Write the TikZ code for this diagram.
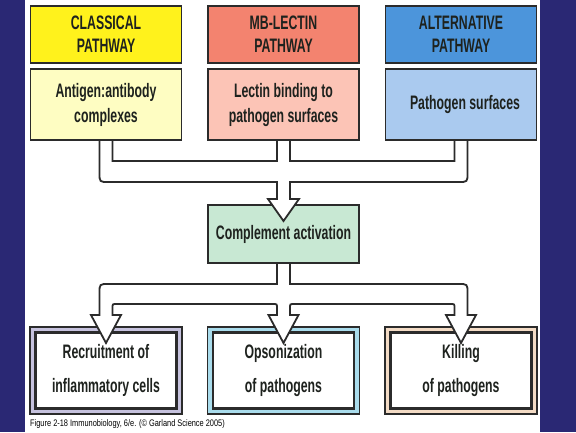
\documentclass[tikz,border=0pt]{standalone}
\usepackage{fontspec}
\setmainfont{Liberation Sans}[FakeStretch=0.63]
\newfontfamily\capfont{Liberation Sans}[FakeStretch=0.78]
\usetikzlibrary{calc}

\begin{document}
\begin{tikzpicture}[x=1pt, y=-1pt,
  box/.style={draw=boxline, line width=1.6pt, minimum width=151pt, inner sep=0pt, outer sep=0pt,
    align=center, text=txt, font=\bfseries\fontsize{19.5}{23}\selectfont},
  title/.style={box, minimum height=57pt},
  source/.style={box, minimum height=71pt, font=\bfseries\fontsize{19.5}{25}\selectfont},
  effect/.style={draw=boxline, line width=1.1pt, minimum width=152pt, minimum height=87pt, inner sep=0pt, outer sep=0pt},
  effectin/.style={box, line width=2.2pt, fill=white, minimum width=141pt, minimum height=76pt,
    font=\bfseries\fontsize{19.5}{34}\selectfont},
  conn/.style={draw=boxline, fill=white, line width=1.8pt, line join=miter}]
  \definecolor{slide}{HTML}{2A2874}
  \definecolor{boxline}{HTML}{2B2B2B}
  \definecolor{txt}{HTML}{1E221E}
  \definecolor{clsdark}{HTML}{FFF21C}
  \definecolor{clslight}{HTML}{FEFDC2}
  \definecolor{mbldark}{HTML}{F3836F}
  \definecolor{mbllight}{HTML}{FCC4B6}
  \definecolor{altdark}{HTML}{4C95DB}
  \definecolor{altlight}{HTML}{AACAEF}
  \definecolor{actfill}{HTML}{C8E8D3}
  \definecolor{recfill}{HTML}{C6C2DE}
  \definecolor{opsfill}{HTML}{A9DCEC}
  \definecolor{kilfill}{HTML}{F3DBC5}

  \useasboundingbox (0,0) rectangle (576,432);
  \fill[slide] (0,0) rectangle (576,432);
  \fill[white] (25,0) rectangle (540,432);

  % pathways
  \node[title, fill=clsdark] (cls) at (106,34.5) {CLASSICAL\\PATHWAY};
  \node[title, fill=mbldark] (mbl) at (283.5,34.5) {MB-LECTIN\\PATHWAY};
  \node[title, fill=altdark] (alt) at (461,34.5) {ALTERNATIVE\\PATHWAY};

  \node[source, fill=clslight] (clsin) at (106,104.5) {Antigen:antibody\\complexes};
  \node[source, fill=mbllight] (mblin) at (283.5,104.5) {Lectin binding to\\pathogen surfaces};
  \node[source, fill=altlight] (altin) at (461,104.5) {\hspace{8pt}Pathogen surfaces};

  \node[box, fill=actfill, minimum height=58pt] (cact) at (283.5,234) {Complement activation};

  % effects
  \node[effect, fill=recfill] (rec) at (106,370.5) {};
  \node[effect, fill=opsfill] (ops) at (283.5,370.5) {};
  \node[effect, fill=kilfill] (kil) at (461,370.5) {};
  \node[effectin] (recin) at (rec) {Recruitment of\\inflammatory cells};
  \node[effectin] (opsin) at (ops) {Opsonization\\of pathogens};
  \node[effectin] (kilin) at (kil) {Killing\\of pathogens};

  \path (cact.north) ++(0,-23) coordinate (jo)
        (cact.north) ++(0,-44) coordinate (ji)
        (cact.south) ++(0,21) coordinate (bo)
        (cact.south) ++(0,41) coordinate (bi);

  % merging arrow
  \filldraw[conn] ($(clsin.south)+(-6.5,0)$) -- ($(clsin.south |- jo)+(-6.5,-9)$)
    .. controls ($(clsin.south |- jo)+(-6.5,0)$) .. ($(clsin.south |- jo)+(2.5,0)$)
    -- ($(jo)+(-6.5,0)$) -- ($(cact.north)+(-6.5,-6)$) -- ($(cact.north)+(-15.5,-6)$)
    -- ($(cact.north)+(0,16)$) -- ($(cact.north)+(15.5,-6)$) -- ($(cact.north)+(6.5,-6)$)
    -- ($(jo)+(6.5,0)$) -- ($(altin.south |- jo)+(-2.5,0)$)
    .. controls ($(altin.south |- jo)+(6.5,0)$) .. ($(altin.south |- jo)+(6.5,-9)$)
    -- ($(altin.south)+(6.5,0)$) -- ($(altin.south)+(-6.5,0)$) -- ($(altin.south |- ji)+(-6.5,0)$)
    -- ($(ji)+(6.5,0)$) -- ($(mblin.south)+(6.5,0)$) -- ($(mblin.south)+(-6.5,0)$)
    -- ($(ji)+(-6.5,0)$) -- ($(clsin.south |- ji)+(6.5,0)$) -- ($(clsin.south)+(6.5,0)$) -- cycle;

  % splitting arrow
  \filldraw[conn] ($(cact.south)+(-6.5,0)$) -- ($(bo)+(-6.5,0)$) -- ($(rec.north |- bo)+(2.5,0)$)
    .. controls ($(rec.north |- bo)+(-6.5,0)$) .. ($(rec.north |- bo)+(-6.5,9)$)
    -- ($(rec.north)+(-6.5,-12)$) -- ($(rec.north)+(-15,-12)$) -- ($(rec.north)+(0,16)$)
    -- ($(rec.north)+(15,-12)$) -- ($(rec.north)+(6.5,-12)$) -- ($(rec.north |- bi)+(6.5,4)$)
    .. controls ($(rec.north |- bi)+(6.5,0)$) .. ($(rec.north |- bi)+(10.5,0)$)
    -- ($(ops.north |- bi)+(-10.5,0)$) .. controls ($(ops.north |- bi)+(-6.5,0)$) .. ($(ops.north |- bi)+(-6.5,4)$)
    -- ($(ops.north)+(-6.5,-12)$) -- ($(ops.north)+(-15,-12)$) -- ($(ops.north)+(0,16)$)
    -- ($(ops.north)+(15,-12)$) -- ($(ops.north)+(6.5,-12)$) -- ($(ops.north |- bi)+(6.5,4)$)
    .. controls ($(ops.north |- bi)+(6.5,0)$) .. ($(ops.north |- bi)+(10.5,0)$)
    -- ($(kil.north |- bi)+(-10.5,0)$) .. controls ($(kil.north |- bi)+(-6.5,0)$) .. ($(kil.north |- bi)+(-6.5,4)$)
    -- ($(kil.north)+(-6.5,-12)$) -- ($(kil.north)+(-15,-12)$) -- ($(kil.north)+(0,16)$)
    -- ($(kil.north)+(15,-12)$) -- ($(kil.north)+(6.5,-12)$) -- ($(kil.north |- bo)+(6.5,9)$)
    .. controls ($(kil.north |- bo)+(6.5,0)$) .. ($(kil.north |- bo)+(-2.5,0)$)
    -- ($(bo)+(6.5,0)$) -- ($(cact.south)+(6.5,0)$) -- cycle;

  \node[anchor=west, inner sep=0pt, font=\capfont\fontsize{9.5}{11}\selectfont] (cap) at (30,424)
    {Figure 2-18 Immunobiology, 6/e. (\textcopyright\ Garland Science 2005)};
\end{tikzpicture}
\end{document}
